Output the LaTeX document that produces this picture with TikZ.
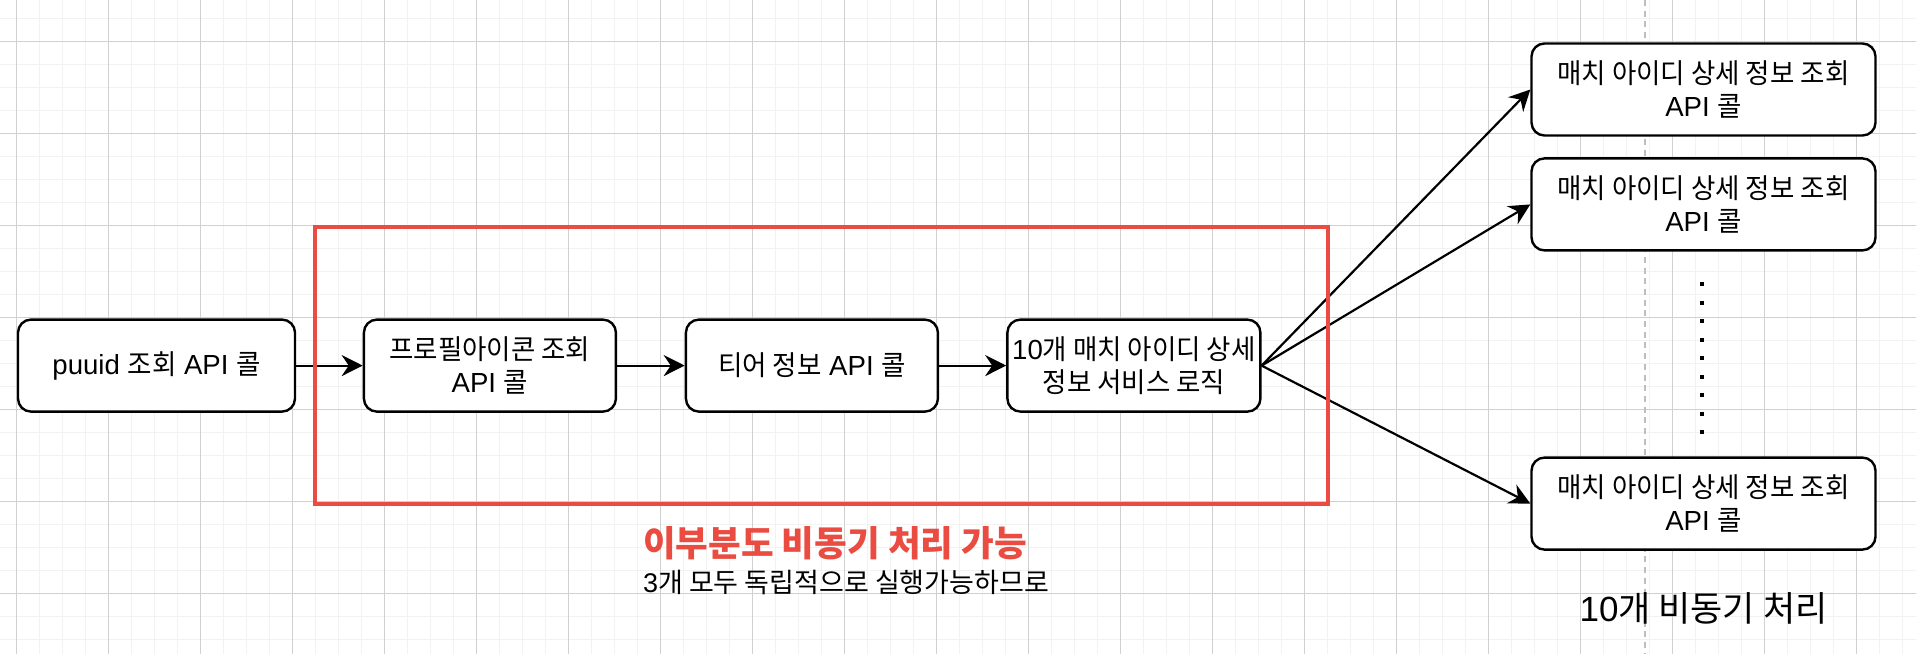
\documentclass[tikz,border=0pt]{standalone}
\usepackage{fontspec}
\setmainfont{Liberation Sans}
\newfontfamily\kr{Noto Sans CJK KR}[FakeStretch=0.96]
\newfontfamily\krw{Noto Sans CJK KR}
\usetikzlibrary{arrows.meta}
\definecolor{redc}{RGB}{234,76,66}
\definecolor{minorc}{RGB}{242,242,242}
\definecolor{majorc}{RGB}{208,208,208}
\definecolor{dashc}{RGB}{190,190,190}
\newcommand\K[1]{{\kr #1}}
\newcommand\W[1]{{\krw #1}}
\tikzset{
  minorgrid/.style={draw=minorc, line width=1.6pt},
  majorgrid/.style={draw=majorc, line width=1pt},
  procbox/.style={draw=black, line width=2.4pt, rounded corners=13pt, fill=white,
    minimum height=92pt, align=center, inner sep=2pt,
    font=\fontsize{27.6}{33}\selectfont},
  flow/.style={draw=black, line width=2.2pt, -{Stealth[length=21pt,width=21pt,inset=7pt]}},
  redbox/.style={draw=redc, line width=4pt, minimum width=1013pt, minimum height=277pt},
}
\begin{document}
\begin{tikzpicture}[x=1pt,y=-1pt]
\useasboundingbox (0,0) rectangle (1916,654);
\fill[white] (0,0) rectangle (1916,654);
\begin{scope}
\clip (0,0) rectangle (1916,654);
\foreach \k in {0,...,84} { \draw[minorgrid] ({-6.5+23*\k},0) -- ++(0,654); }
\foreach \k in {0,...,29} { \draw[minorgrid] (0,{-4.7+23*\k}) -- ++(1916,0); }
\foreach \k in {0,...,20} { \draw[majorgrid] ({16.5+92*\k},0) -- ++(0,654); }
\foreach \k in {0,...,6} { \draw[majorgrid] (0,{41.3+92*\k}) -- ++(1916,0); }
\end{scope}
% dashed divider
\coordinate (divtop) at (1645,0);
\coordinate (divbot) at (1645,654);
\draw[dashc, line width=1.8pt, dash pattern=on 6pt off 4.7pt] (divtop) -- (divbot);

% boxes
\node[procbox, minimum width=277pt] (puuid) at (156.5,365.6) {puuid \K{조회} API \K{콜}};
\node[procbox, minimum width=252pt] (profile) at (489.9,365.6) {\K{프로필아이콘 조회}\\API \K{콜}};
\node[procbox, minimum width=252pt] (tier) at (811.9,365.6) {\K{티어 정보} API \K{콜}};
\node[procbox, minimum width=253pt] (svc) at (1133.9,365.6) {10\K{개 매치 아이디 상세}\\\K{정보 서비스 로직}};
\node[procbox, minimum width=344pt] (m1) at (1703.5,89.5) {\K{매치 아이디 상세 정보 조회}\\API \K{콜}};
\node[procbox, minimum width=344pt] (m2) at (1703.5,204.4) {\K{매치 아이디 상세 정보 조회}\\API \K{콜}};
\node[procbox, minimum width=344pt] (m3) at (1703.5,503.6) {\K{매치 아이디 상세 정보 조회}\\API \K{콜}};

% connectors
\draw[flow] (puuid.east) -- (profile.west);
\draw[flow] (profile.east) -- (tier.west);
\draw[flow] (tier.east) -- (svc.west);
\draw[flow] (svc.east) -- (m1.west);
\draw[flow] (svc.east) -- (m2.west);
\draw[flow] (svc.east) -- (m3.west);

% red group
\node[redbox] (async) at (821.8,365) {};

% vertical ellipsis
\coordinate (dotstart) at (1702,282);
\coordinate (dotend) at (1702,436);
\draw[black, line width=4pt, dash pattern=on 4pt off 14.5pt] (dotstart) -- (dotend);

% labels
\node[anchor=west, inner sep=0pt, text=redc, font=\fontsize{35.5}{40}\selectfont\bfseries] (asynclabel) at (643,543.5) {\W{이부분도 비동기 처리 가능}};
\node[anchor=west, inner sep=0pt, font=\fontsize{27}{32}\selectfont] (asyncnote) at (643,582) {3\W{개 모두 독립적으로 실행가능하므로}};
\node[inner sep=0pt, font=\fontsize{35}{40}\selectfont] (tenlabel) at (1703.5,608) {10\W{개 비동기 처리}};
\end{tikzpicture}
\end{document}
